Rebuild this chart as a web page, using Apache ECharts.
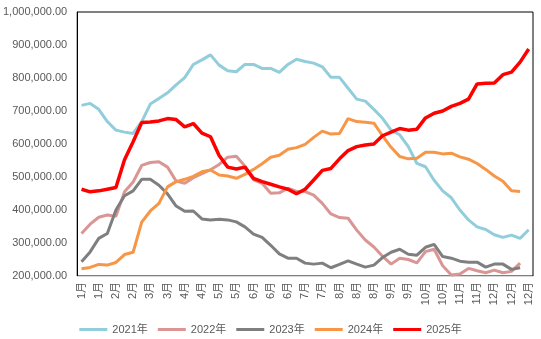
<!DOCTYPE html>
<html>
<head>
<meta charset="utf-8">
<script src="https://cdn.jsdelivr.net/npm/echarts@6/dist/echarts.min.js"></script>
<style>
html,body{margin:0;padding:0;background:#fff;}
#chart{width:541px;height:339px;}
</style>
</head>
<body>
<div id="chart"></div>
<script>
// Weekly categories (53 weeks), labelled by month
const categories = [
  '1月','1月','1月','1月',
  '2月','2月','2月','2月',
  '3月','3月','3月','3月',
  '4月','4月','4月','4月',
  '5月','5月','5月','5月',
  '6月','6月','6月','6月','6月','6月',
  '7月','7月','7月','7月',
  '8月','8月','8月','8月','8月','8月',
  '9月','9月','9月','9月',
  '10月','10月','10月','10月',
  '11月','11月','11月','11月',
  '12月','12月','12月','12月','12月'
];

const seriesNames = ['2021年','2022年','2023年','2024年','2025年'];

const y2021 = [717000,723000,705000,668000,642000,636000,632000,668000,721000,738000,755000,779000,801000,841000,855000,870000,839000,822000,819000,841000,841000,829000,829000,817000,841000,857000,850000,845000,834000,802000,802000,769000,736000,730000,705000,678000,642000,628000,592000,541000,531000,490000,458000,437000,400000,370000,349000,341000,325000,317000,324000,314000,340000];

const y2022 = [329000,357000,378000,385000,381000,455000,485000,535000,544000,546000,530000,488000,481000,498000,510000,522000,538000,560000,563000,533000,491000,481000,451000,452000,466000,456000,456000,445000,420000,388000,377000,375000,339000,309000,288000,260000,236000,254000,250000,240000,274000,281000,231000,203000,206000,223000,216000,210000,218000,210000,214000,239000];

const y2023 = [243000,273000,314000,329000,400000,443000,458000,493000,493000,475000,449000,412000,396000,397000,373000,370000,372000,370000,364000,349000,327000,317000,293000,267000,254000,254000,239000,236000,239000,225000,235000,246000,236000,227000,233000,256000,272000,281000,266000,263000,287000,296000,259000,254000,245000,242000,242000,227000,236000,236000,220000,225000];

const y2024 = [222000,226000,235000,233000,241000,265000,272000,363000,397000,420000,470000,486000,493000,502000,516000,521000,506000,503000,496000,508000,523000,540000,560000,566000,584000,589000,599000,620000,639000,630000,632000,677000,668000,666000,663000,625000,590000,562000,555000,557000,575000,575000,570000,572000,561000,554000,541000,523000,503000,487000,458000,456000];

const y2025 = [463000,455000,458000,463000,468000,552000,607000,665000,667000,670000,677000,674000,652000,662000,633000,622000,565000,530000,524000,530000,496000,486000,478000,470000,463000,449000,463000,491000,520000,526000,555000,580000,592000,597000,600000,625000,636000,647000,642000,645000,679000,693000,700000,714000,723000,736000,782000,784000,785000,810000,818000,848000,888000];

const yMin = 200000, yMax = 1000000, yStep = 100000;
const colors = ['#92CDDC','#D99694','#7F7F7F','#F79646','#FF0000'];
const allData = [y2021, y2022, y2023, y2024, y2025];

const font = "'Liberation Sans', Arial, 'Noto Sans CJK SC', sans-serif";
const chart = echarts.init(document.getElementById('chart'));
chart.setOption({
  animation: false,
  textStyle: { fontFamily: font },
  grid: { left: 77, right: 8, top: 12, bottom: 63, show: true, borderColor: '#000', borderWidth: 1, backgroundColor: 'transparent' },
  legend: {
    data: seriesNames,
    left: 'center',
    top: 319,
    icon: 'rect',
    itemWidth: 28,
    itemHeight: 3,
    itemGap: 10,
    textStyle: { color: '#595959', fontSize: 11, fontFamily: font }
  },
  xAxis: {
    type: 'category',
    data: categories,
    boundaryGap: true,
    axisLine: { show: true, lineStyle: { color: '#D9D9D9', width: 1 } },
    axisTick: { show: false },
    axisLabel: { interval: 1, rotate: 90, color: '#595959', fontSize: 11, fontFamily: font, margin: 6 },
    splitLine: { show: false }
  },
  yAxis: {
    type: 'value',
    min: yMin, max: yMax, interval: yStep,
    axisLine: { show: true, lineStyle: { color: '#000', width: 1 } },
    axisTick: { show: false },
    splitLine: { show: false },
    axisLabel: {
      color: '#595959', fontSize: 11, fontFamily: font, margin: 10,
      formatter: v => v.toLocaleString('en-US', { minimumFractionDigits: 2, maximumFractionDigits: 2 })
    }
  },
  series: allData.map((d, i) => ({
    name: seriesNames[i],
    type: 'line',
    data: d,
    symbol: 'none',
    smooth: false,
    color: colors[i],
    lineStyle: { color: colors[i], width: i === 4 ? 3.5 : 3 },
    z: i === 4 ? 5 : 2
  }))
});
</script>
</body>
</html>
